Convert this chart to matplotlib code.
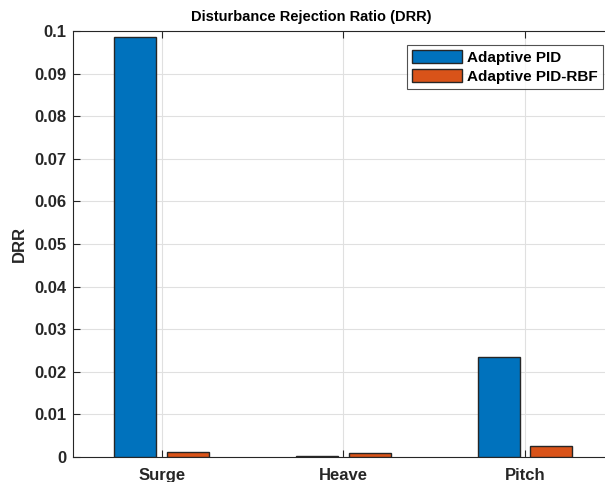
import numpy as np
import matplotlib
matplotlib.use("Agg")
import matplotlib.pyplot as plt

categories = ["Surge", "Heave", "Pitch"]
adaptive_pid = [0.0987, 0.0002, 0.0235]
adaptive_pid_rbf = [0.00125, 0.0010, 0.0026]
series_names = ["Adaptive PID", "Adaptive PID-RBF"]
yticks = [0, 0.01, 0.02, 0.03, 0.04, 0.05, 0.06, 0.07, 0.08, 0.09, 0.1]
ytick_labels = ["0", "0.01", "0.02", "0.03", "0.04", "0.05", "0.06", "0.07", "0.08", "0.09", "0.1"]

plt.rcParams["font.family"] = ["Liberation Sans", "DejaVu Sans"]
plt.rcParams["font.weight"] = "bold"

W, H = 605, 482
fig = plt.figure(figsize=(W / 100, H / 100), dpi=100)
# axes box in pixels: left 73, right 614 (past the figure edge), top 31, bottom 457
ax = fig.add_axes([73 / W, 1 - 457 / H, (614 - 73) / W, (457 - 31) / H])

x = np.arange(1, len(categories) + 1)
bw = 0.23
off = 0.145
edge = "#262626"
ax.bar(x - off, adaptive_pid, bw, color="#0072BD", edgecolor=edge, linewidth=1.0,
       label=series_names[0], zorder=3)
ax.bar(x + off, adaptive_pid_rbf, bw, color="#D95319", edgecolor=edge, linewidth=1.0,
       label=series_names[1], zorder=3)

ax.set_xlim(0.512, 3.49)
ax.set_ylim(0, 0.1)
ax.set_xticks(x)
ax.set_xticklabels(categories, fontsize=12, fontweight="bold", color="#262626")
ax.set_yticks(yticks)
ax.set_yticklabels(ytick_labels, fontsize=12, fontweight="bold", color="#262626")
ax.tick_params(direction="in", length=5, width=0.8, color="#262626", top=True, right=False,
               pad=5)
ax.tick_params(axis="x", pad=8)
ax.grid(True, color="#e0e0e0", linewidth=0.8, zorder=0)
ax.set_axisbelow(True)
for s in ax.spines.values():
    s.set_color("#262626")
    s.set_linewidth(0.8)
ax.spines["right"].set_visible(False)

ax.set_ylabel("DRR", fontsize=12, fontweight="bold", color="#262626", labelpad=5)
fig.text(311 / W, 1 - 17 / H, "Disturbance Rejection Ratio (DRR)", ha="center", va="center",
         fontsize=10.5, fontweight="bold", color="#000000")

leg = ax.legend(loc="upper left", bbox_to_anchor=((407 - 73) / (614 - 73), 1 - (45 - 31) / (457 - 31)),
                prop={"size": 11, "weight": "bold"}, frameon=True, fancybox=False,
                edgecolor="#262626", handlelength=3.27, handleheight=0.92, handletextpad=0.3,
                borderpad=0.35, labelspacing=0.25, borderaxespad=0)
leg.get_frame().set_linewidth(0.8)
for t in leg.get_texts():
    t.set_color("#000000")

fig.savefig("out.png", dpi=100)
